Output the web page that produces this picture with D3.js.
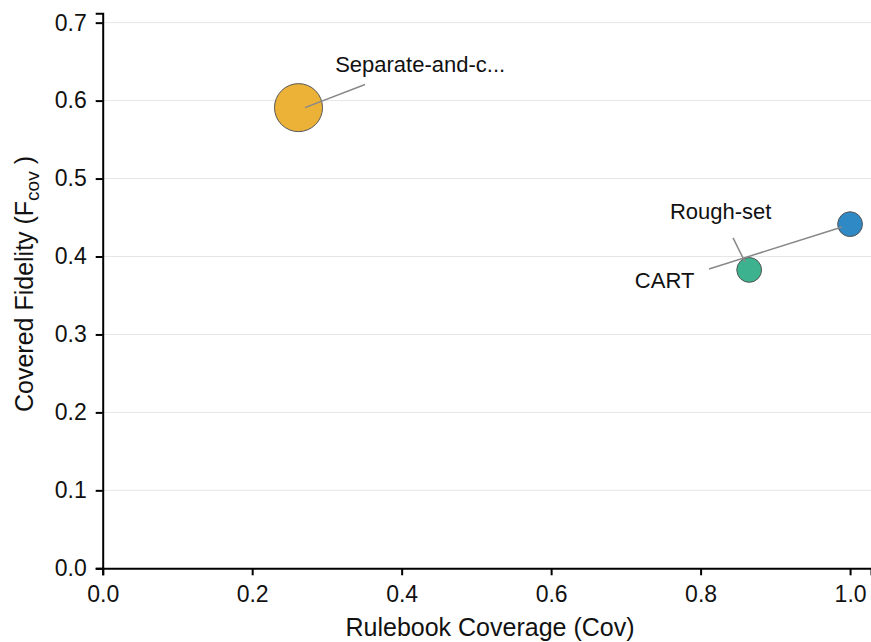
<!DOCTYPE html>
<html>
<head>
<meta charset="utf-8">
<script src="https://cdn.jsdelivr.net/npm/d3@7"></script>
<style>
  body { margin: 0; background: #fff; }
  svg { display: block; font-family: "Liberation Sans", Arial, sans-serif; }
</style>
</head>
<body>
<div id="chart"></div>
<script>
// data
const methods = ["Separate-and-conquer", "Rough-set", "CART"];
const shortLabels = ["Separate-and-c...", "Rough-set", "CART"];
const coverage = [0.262, 1.0, 0.865];
const fidelity = [0.591, 0.4415, 0.3828];
const ruleCount = [45, 12, 12];
const colors = ["#ebb237", "#2e89c4", "#3cb38e"];
// label anchors and leader lines (data units)
const labelX = [0.311, 0.759, 0.712];
const labelY = [0.637, 0.448, 0.3595];
const leaderFrom = [[0.2706, 0.591], [0.8434, 0.4238], [0.8113, 0.384]];
const leaderTo = [[0.351, 0.6206], [0.8594, 0.393], [0.9893, 0.4379]];
const xTicks = [0, 0.2, 0.4, 0.6, 0.8, 1.0];
const yTicks = [0, 0.1, 0.2, 0.3, 0.4, 0.5, 0.6, 0.7];

const width = 871, height = 642;
const margin = { left: 102.7, right: 0, top: 13.3, bottom: 73.7 };

const svg = d3.select("#chart").append("svg")
  .attr("width", width)
  .attr("height", height);

const x = d3.scaleLinear().domain([0, 1.028]).range([margin.left, width - margin.right]);
const y = d3.scaleLinear().domain([0, 0.712]).range([height - margin.bottom, margin.top]);
const r = d3.scaleSqrt().domain([0, 45]).range([0, 24]);

// grid
svg.append("g")
  .selectAll("line")
  .data(yTicks.filter(d => d > 0))
  .join("line")
  .attr("x1", x(0))
  .attr("x2", width)
  .attr("y1", d => y(d))
  .attr("y2", d => y(d))
  .attr("stroke", "#e6e6e6")
  .attr("stroke-width", 1);

// axes
const xAxis = svg.append("g")
  .attr("transform", `translate(0,${y(0)})`)
  .call(d3.axisBottom(x).tickValues(xTicks).tickFormat(d3.format(".1f")).tickSizeOuter(0).tickSize(7));
const yAxis = svg.append("g")
  .attr("transform", `translate(${x(0)},0)`)
  .call(d3.axisLeft(y).tickValues(yTicks).tickFormat(d3.format(".1f")).tickSizeOuter(0).tickSize(7));

[xAxis, yAxis].forEach(g => {
  g.attr("font-size", null).attr("font-family", null);
  g.select(".domain").attr("stroke", "#000").attr("stroke-width", 2);
  g.selectAll(".tick line").attr("stroke", "#000").attr("stroke-width", 2);
  g.selectAll(".tick text").attr("fill", "#111").style("font-size", "23px");
});
xAxis.selectAll(".tick text").attr("y", 17).attr("dy", "0.71em");
yAxis.selectAll(".tick text").attr("x", -16);

const leader = (g) => g
  .selectAll("line")
  .data(methods)
  .join("line")
  .attr("x1", (d, i) => x(leaderFrom[i][0]))
  .attr("y1", (d, i) => y(leaderFrom[i][1]))
  .attr("x2", (d, i) => x(leaderTo[i][0]))
  .attr("y2", (d, i) => y(leaderTo[i][1]))
  .attr("stroke", "#888")
  .attr("stroke-width", 1.5);

// bubbles
svg.append("g")
  .selectAll("circle")
  .data(methods)
  .join("circle")
  .attr("cx", (d, i) => x(coverage[i]))
  .attr("cy", (d, i) => y(fidelity[i]))
  .attr("r", (d, i) => r(ruleCount[i]))
  .attr("fill", (d, i) => colors[i])
  .attr("stroke", "#555")
  .attr("stroke-width", 1);

svg.append("g").call(leader);

// labels
svg.append("g")
  .selectAll("text")
  .data(shortLabels)
  .join("text")
  .attr("x", (d, i) => x(labelX[i]))
  .attr("y", (d, i) => y(labelY[i]))
  .attr("fill", "#111")
  .style("font-size", "22px")
  .text(d => d);

// axis titles
svg.append("text")
  .attr("x", 490)
  .attr("y", 636)
  .attr("text-anchor", "middle")
  .attr("fill", "#111")
  .style("font-size", "25px")
  .text("Rulebook Coverage (Cov)");

const yt = svg.append("text")
  .attr("transform", `translate(33,284) rotate(-90)`)
  .attr("text-anchor", "middle")
  .attr("fill", "#111")
  .style("font-size", "25px");
yt.append("tspan").text("Covered Fidelity (F");
yt.append("tspan").attr("dy", 6).style("font-size", "19px").text("cov");
yt.append("tspan").attr("dy", -6).attr("dx", 7).text(")");
</script>
</body>
</html>
